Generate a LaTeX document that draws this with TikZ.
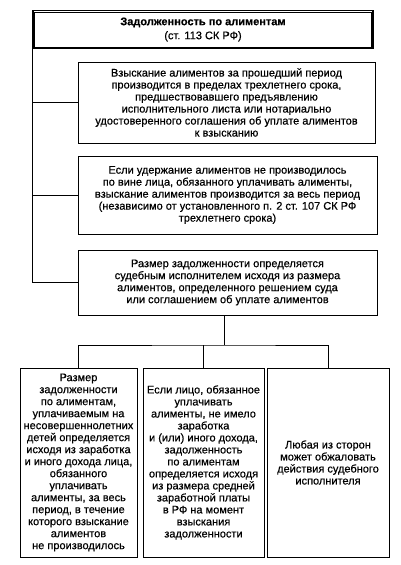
\documentclass[tikz,border=0pt]{standalone}
\usepackage{fontspec}
\setmainfont{Liberation Sans}[FakeBold=0.5]
\begin{document}
\begin{tikzpicture}[x=1pt,y=-1pt,
  box/.style={draw=black, line width=0.9pt, align=center, inner sep=0pt,
    font=\fontsize{11}{12}\selectfont},
  conn/.style={draw=black, line width=0.8pt}]
\useasboundingbox[fill=white] (0,0) rectangle (400,565);
% title box (double border)
\node[draw=black, line width=1.8pt, minimum width=340pt, minimum height=38pt,
  inner sep=0pt, align=center, font=\fontsize{11}{14}\selectfont] (top) at (203,29.5)
  {\textbf{Задолженность по алиментам}\\(ст. 113 СК РФ)};
\draw[line width=0.5pt] ([shift={(2.5pt,-2.5pt)}]top.north west) rectangle ([shift={(-2.5pt,2.5pt)}]top.south east);
% second level boxes
\node[box, minimum width=297pt, minimum height=81pt] (b1) at (226.5,102.5)
  {Взыскание алиментов за прошедший период\\производится в пределах трехлетнего срока,\\предшествовавшего предъявлению\\исполнительного листа или нотариально\\удостоверенного соглашения об уплате алиментов\\к взысканию};
\node[box, minimum width=299pt, minimum height=78pt] (b2) at (227.5,195)
  {Если удержание алиментов не производилось\\по вине лица, обязанного уплачивать алименты,\\взыскание алиментов производится за весь период\\(независимо от установленного п. 2 ст. 107 СК РФ\\трехлетнего срока)};
\node[box, minimum width=299pt, minimum height=65pt] (b3) at (227.5,282.5)
  {Размер задолженности определяется\\судебным исполнителем исходя из размера\\алиментов, определенного решением суда\\или соглашением об уплате алиментов};
% bottom boxes
\node[box, minimum width=117pt, minimum height=189pt] (ba) at (78.5,462.5)
  {Размер\\задолженности\\по алиментам,\\уплачиваемым на\\несовершеннолетних\\детей определяется\\исходя из заработка\\и иного дохода лица,\\обязанного\\уплачивать\\алименты, за весь\\период, в течение\\которого взыскание\\алиментов\\не производилось};
\node[box, minimum width=121pt, minimum height=189pt] (bb) at (203.5,462.5)
  {Если лицо, обязанное\\уплачивать\\алименты, не имело\\заработка\\и (или) иного дохода,\\задолженность\\по алиментам\\определяется исходя\\из размера средней\\заработной платы\\в РФ на момент\\взыскания\\задолженности};
\node[box, minimum width=122pt, minimum height=189pt] (bc) at (328,462.5)
  {Любая из сторон\\может обжаловать\\действия судебного\\исполнителя};
% connectors
\draw[conn] (top.south west) |- (b1.west);
\draw[conn] (top.south west) |- (b2.west);
\draw[conn] (top.south west) |- (b3.west);
\coordinate (j) at (224,345);
\draw[conn] (b3.south -| j) -- (j);
\draw[conn] (ba.north) |- (j) -| (bc.north);
\draw[conn] (bb.north) -- (bb.north |- j);
\end{tikzpicture}
\end{document}
